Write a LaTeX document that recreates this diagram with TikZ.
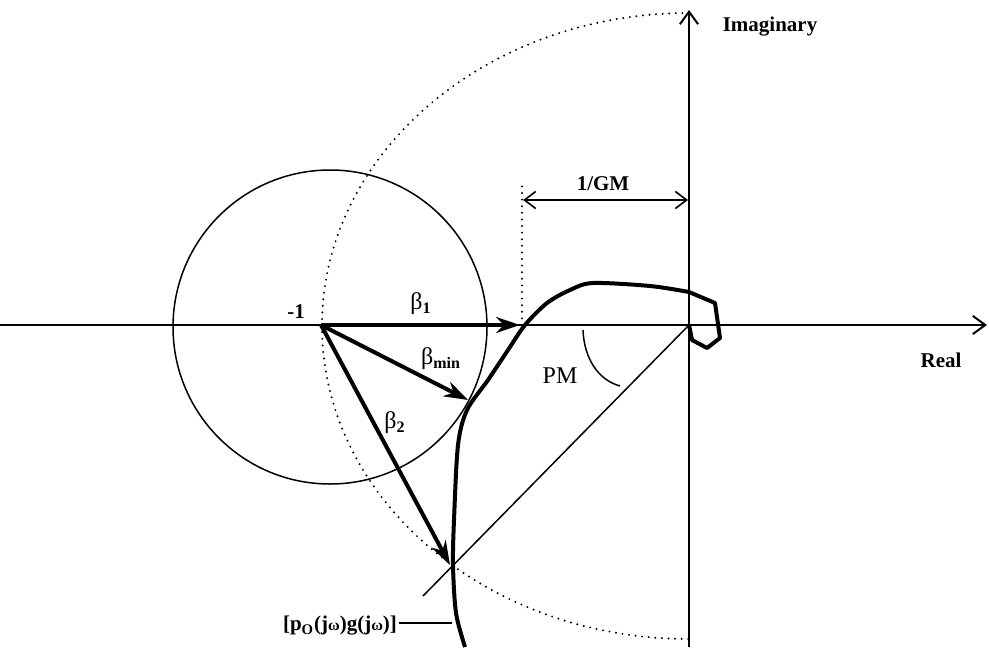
\documentclass[tikz,border=0pt]{standalone}
\usepackage{fontspec}
\setmainfont{Liberation Serif}
\usetikzlibrary{arrows.meta,positioning,calc}
\tikzset{
  axis/.style={line width=1pt, -{Straight Barb[length=2.2mm, width=3.2mm]}},
  thinline/.style={line width=0.75pt},
  dotline/.style={line width=1.1pt, dash pattern=on 0pt off 3.3pt, line cap=round},
  nyquist/.style={line width=2pt, line join=round},
  beta/.style={line width=2pt, -{Stealth[length=4.2mm, width=2.8mm]}},
  dimline/.style={line width=0.8pt, {Straight Barb[length=2mm, width=3mm]}-{Straight Barb[length=2mm, width=3mm]}},
  lbl/.style={font=\fontsize{10.5}{12}\selectfont\bfseries, inner sep=1pt},
  gr/.style={font=\fontsize{12}{14}\selectfont, inner sep=1pt}
}
\begin{document}
\begin{tikzpicture}[x=0.5pt, y=-0.5pt]
  \useasboundingbox (0,0) rectangle (989,647);
  % axes
  \coordinate (O) at (689,325);
  \coordinate (re0) at (0,325);
  \coordinate (re1) at (987,325);
  \coordinate (im0) at (689,647);
  \coordinate (im1) at (689,10);
  \coordinate (m1) at (321,325);
  \draw[axis] (re0) -- (re1);
  \draw[axis] (im0) -- (im1);

  % unit circle and circle round -1
  \draw[dotline] (689,13) arc[start angle=270, end angle=90, x radius=367, y radius=313];
  \draw[thinline] (330,327) circle[radius=157];

  % gain margin
  \coordinate (gm) at (522,325);
  \coordinate (gmtop) at (522,182);
  \draw[dotline] (gm) -- (gmtop);
  \coordinate (gml) at (523,200);
  \coordinate (gmr) at (688,200);
  \draw[dimline] (gml) -- (gmr);
  \node[lbl] (gmlabel) at (603,184) {1/GM};

  % nyquist curve
  \draw[nyquist] plot[smooth, tension=0.5] coordinates {(465,647) (456,613) (453,565) (454,520) (458,445) (467,410) (488,380) (508,350) (525,325) (547,303) (570,290) (593,283) (650,286) (689,292)}
    -- (715,303) -- (720,338) -- (707,348) -- (692,340) -- (O);

  % phase margin
  \coordinate (pm) at (423,596);
  \draw[thinline] (O) -- (pm);
  \coordinate (pma) at (583,330);
  \coordinate (pmb) at (620,386);
  \draw[thinline] (pma) .. controls (584,358) and (598,380) .. (pmb);
  \node[font=\fontsize{12}{14}\selectfont, inner sep=1pt] (pmlabel) at (560,376) {PM};

  % beta vectors
  \coordinate (b1) at (520,325);
  \coordinate (bmin) at (468,400);
  \coordinate (b2) at (450,565);
  \draw[beta] (m1) -- (b1);
  \draw[beta] (m1) -- (bmin);
  \draw[beta] (m1) -- (b2);
  \node[gr] (b1label) at (421,304) {β\textsubscript{\bfseries 1}};
  \node[gr] (bminlabel) at (441,359) {β\textsubscript{\bfseries min}};
  \node[gr] (b2label) at (395,423) {β\textsubscript{\bfseries 2}};
  \node[lbl] (m1label) at (296,312) {-1};

  % axis labels
  \node[lbl] (imlabel) at (770,27) {Imaginary};
  \node[lbl] (relabel) at (941,360) {Real};

  % curve label
  \node[lbl] (pglabel) at (340,626) {[p\textsubscript{O}(j{\footnotesize ω})g(j{\footnotesize ω})]};
  \coordinate (pgend) at (452,623);
  \draw[thinline] (pglabel.east |- pgend) -- (pgend);
\end{tikzpicture}
\end{document}
